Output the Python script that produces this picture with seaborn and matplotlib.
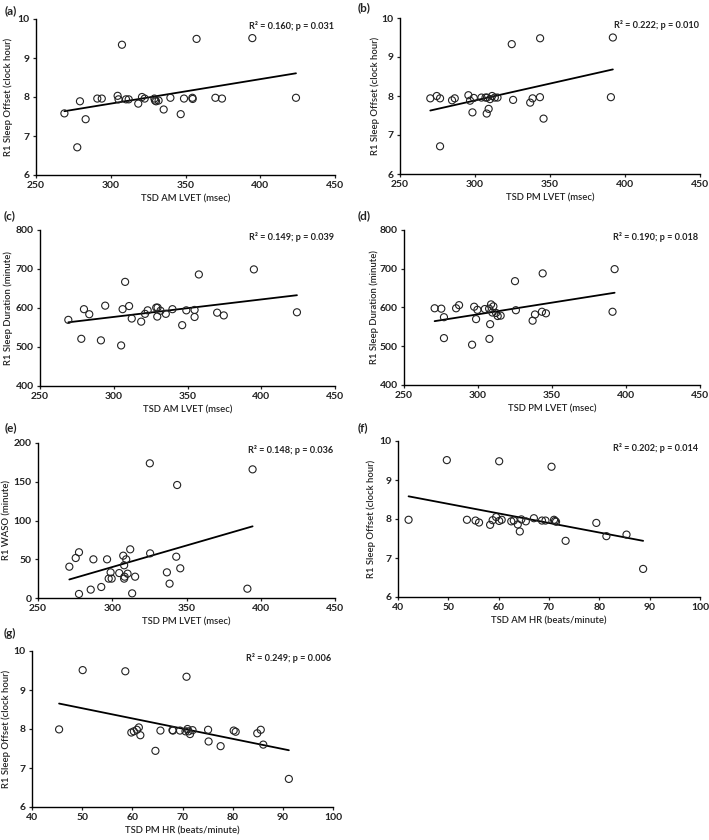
import matplotlib
matplotlib.use("Agg")
import matplotlib.pyplot as plt
import seaborn as sns
import pandas as pd

# ---------------- data ----------------
a_x = [269, 277.6, 279.4, 283.2, 291, 294, 304.6, 305.2, 307.5, 310.2, 312, 318.4, 320.9, 322.7,
       329.2, 329.6, 330.3, 332, 335.4, 339.9, 346.8, 349, 354.6, 354.8, 357.4, 370, 374.4, 394.7, 423.9]
a_y = [7.58, 6.71, 7.89, 7.43, 7.96, 7.96, 8.03, 7.94, 9.34, 7.94, 7.94, 7.83, 8.0, 7.96,
       7.96, 7.91, 7.89, 7.91, 7.68, 7.98, 7.56, 7.96, 7.98, 7.95, 9.49, 7.98, 7.96, 9.51, 7.98]

b_x = [270.2, 274.5, 276.7, 276.7, 284.7, 286.5, 295.6, 296.7, 298.3, 299.2, 304.3, 307, 307.8, 308,
       309.1, 310, 311.4, 313.2, 315, 324.5, 325.4, 336.8, 338.4, 343.3, 343.4, 345.7, 390.6, 391.9]
b_y = [7.94, 8.0, 7.94, 6.71, 7.89, 7.94, 8.02, 7.88, 7.58, 7.95, 7.96, 7.96, 7.55, 7.96,
       7.67, 7.92, 8.0, 7.96, 7.96, 9.33, 7.9, 7.83, 7.94, 7.97, 9.48, 7.42, 7.97, 9.5]

c_x = [269.2, 278, 279.8, 283.4, 291.3, 294.2, 305, 306, 307.7, 310.4, 312.2, 318.6, 321.2, 323,
       328.8, 329.7, 329.5, 331.7, 335.3, 339.8, 346.4, 349.2, 354.8, 354.8, 357.7, 370.1, 374.6, 395, 424.2]
c_y = [569.6, 521, 597, 584, 517, 606, 504, 597, 667, 605, 573, 565, 585, 594,
       601, 601, 578, 593, 585, 597, 556, 594, 595, 577, 686, 588, 581, 699, 589]

d_x = [270.7, 275.2, 277, 277, 285.2, 287.2, 296, 297.4, 298.7, 299.6, 304.6, 307.5, 307.7, 308.2,
       308.8, 309.7, 310.4, 312.2, 313.3, 315.3, 325, 325.6, 336.9, 338.5, 343.2, 343.7, 345.9, 390.9, 392.3]
d_y = [598, 597, 575, 521, 598, 606, 504, 602, 570, 594, 596, 597, 519, 557,
       608, 587, 603, 586, 578, 579, 668, 593, 566, 582, 589, 688, 585, 589, 699]

e_x = [271.1, 275.4, 277.6, 277.6, 285.5, 287.3, 292.6, 296.5, 297.6, 299.6, 298.9, 304.7, 307.4, 308.0,
       308.3, 308.0, 309.4, 310.3, 312.1, 313.4, 315.4, 325.5, 336.8, 338.6, 343.1, 345.8, 325.3, 343.7, 394.5, 391]
e_y = [40.4, 51.6, 59, 5.2, 10.8, 49.9, 14.2, 49.9, 25, 25, 33.1, 32.2, 54.6, 25,
       27.5, 42.2, 49.9, 31.4, 62.8, 6, 27.5, 57.6, 33.1, 18.5, 53.3, 38.3, 173.8, 145.8, 166, 12]

f_x = [42.1, 49.7, 53.7, 55.4, 56.1, 58.3, 58.8, 59.5, 60.1, 60.6, 60.1, 62.5, 63, 63.8, 64.2,
       64.5, 65.4, 67, 68.6, 69.3, 70.5, 71, 71.2, 71.4, 73.3, 79.4, 81.4, 85.4, 88.7]
f_y = [7.98, 9.51, 7.98, 7.96, 7.91, 7.85, 7.97, 8.05, 7.95, 7.98, 9.48, 7.94, 7.96, 7.86, 7.68,
       7.99, 7.94, 8.02, 7.96, 7.96, 9.34, 7.98, 7.95, 7.93, 7.44, 7.9, 7.56, 7.6, 6.72]

g_x = [45.4, 50.1, 58.6, 59.8, 60.3, 60.9, 61.3, 61.6, 64.6, 65.6, 68, 68.1, 69.5, 70.8,
       71, 71.2, 71.5, 72, 75.1, 75.2, 77.6, 80.2, 80.6, 84.9, 85.6, 86.1, 91.2, 70.6]
g_y = [7.99, 9.51, 9.48, 7.91, 7.94, 7.98, 8.04, 7.84, 7.44, 7.96, 7.97, 7.96, 7.96, 9.34,
       8.0, 7.94, 7.87, 7.97, 7.98, 7.68, 7.56, 7.96, 7.93, 7.89, 7.98, 7.6, 6.72, 7.94]

panel_labels = ["(a)", "(b)", "(c)", "(d)", "(e)", "(f)", "(g)"]
x_labels = ["TSD AM LVET (msec)", "TSD PM LVET (msec)", "TSD AM LVET (msec)", "TSD PM LVET (msec)",
            "TSD PM LVET (msec)", "TSD AM HR (beats/minute)", "TSD PM HR (beats/minute)"]
y_labels = ["R1 Sleep Offset (clock hour)", "R1 Sleep Offset (clock hour)",
            "R1 Sleep Duration (minute)", "R1 Sleep Duration (minute)",
            "R1 WASO (minute)", "R1 Sleep Offset (clock hour)", "R1 Sleep Offset (clock hour)"]
stats_text = ["R\u00b2 = 0.160; p = 0.031", "R\u00b2 = 0.222; p = 0.010", "R\u00b2 = 0.149; p = 0.039",
              "R\u00b2 = 0.190; p = 0.018", "R\u00b2 = 0.148; p = 0.036", "R\u00b2 = 0.202; p = 0.014",
              "R\u00b2 = 0.249; p = 0.006"]
x_ticks_lvet = [250, 300, 350, 400, 450]
x_ticks_hr = [40, 50, 60, 70, 80, 90, 100]
y_ticks_offset = [6, 7, 8, 9, 10]
y_ticks_duration = [400, 500, 600, 700, 800]
y_ticks_waso = [0, 50, 100, 150, 200]

series = [(a_x, a_y), (b_x, b_y), (c_x, c_y), (d_x, d_y), (e_x, e_y), (f_x, f_y), (g_x, g_y)]
xticks = [x_ticks_lvet] * 5 + [x_ticks_hr] * 2
yticks = [y_ticks_offset, y_ticks_offset, y_ticks_duration, y_ticks_duration,
          y_ticks_waso, y_ticks_offset, y_ticks_offset]

# ---------------- layout (pixels) ----------------
W, H = 709, 840
boxes = [(36, 335, 19, 175), (400, 700, 18, 174), (40, 335, 230, 386), (404, 700, 230, 385),
         (38, 335, 443, 598), (398, 700, 441, 597), (32, 333, 651, 807)]
# right edge (pixels) of the rotated y-axis titles
ylabel_x = [13, 380, 13, 379, 12, 376, 11]
label_pos = [(5, 11), (358, 8), (4, 216), (358, 216), (5, 428), (358, 428), (4, 633)]

sns.set_theme(style="ticks")
FONT = ["Lato", "DejaVu Sans"]
plt.rcParams["font.family"] = FONT
plt.rcParams["axes.edgecolor"] = "black"

fig = plt.figure(figsize=(W / 100, H / 100), dpi=100)
fig.patch.set_facecolor("white")

for i, ((xs, ys), (l, r, t, b)) in enumerate(zip(series, boxes)):
    ax = fig.add_axes([l / W, 1 - b / H, (r - l) / W, (b - t) / H])
    df = pd.DataFrame({"x": xs, "y": ys})
    sns.scatterplot(data=df, x="x", y="y", ax=ax, s=26, facecolor="none",
                    edgecolor="#222222", linewidth=0.8, zorder=3)
    sns.regplot(data=df, x="x", y="y", ax=ax, scatter=False, ci=None,
                line_kws={"color": "black", "lw": 1.3})
    ax.set_xlim(xticks[i][0], xticks[i][-1])
    ax.set_ylim(yticks[i][0], yticks[i][-1])
    ax.set_xticks(xticks[i])
    ax.set_yticks(yticks[i])
    ax.tick_params(direction="out", length=2.5, width=0.9, labelsize=7.5, colors="#222222", pad=2)
    for lab in ax.get_xticklabels() + ax.get_yticklabels():
        lab.set_fontweight("bold")
    ax.set_xlabel(x_labels[i], fontsize=6.8, color="#222222", fontweight="semibold", labelpad=3)
    ax.set_ylabel(y_labels[i], fontsize=6.8, color="#222222", fontweight="semibold")
    ax.yaxis.set_label_coords((ylabel_x[i] - l) / (r - l), 0.5)
    sns.despine(ax=ax)
    for sp in ("left", "bottom"):
        ax.spines[sp].set_linewidth(1.0)
        ax.spines[sp].set_color("black")
    ax.text(0.995, 0.955, stats_text[i], transform=ax.transAxes, ha="right", va="center",
            fontsize=6.6, fontweight="bold", color="#222222")
    lx, ly = label_pos[i]
    fig.text(lx / W, 1 - ly / H, panel_labels[i], ha="left", va="center",
             fontsize=8.5, fontweight="bold", color="#222222")

fig.savefig("out.png", dpi=100, facecolor="white")
